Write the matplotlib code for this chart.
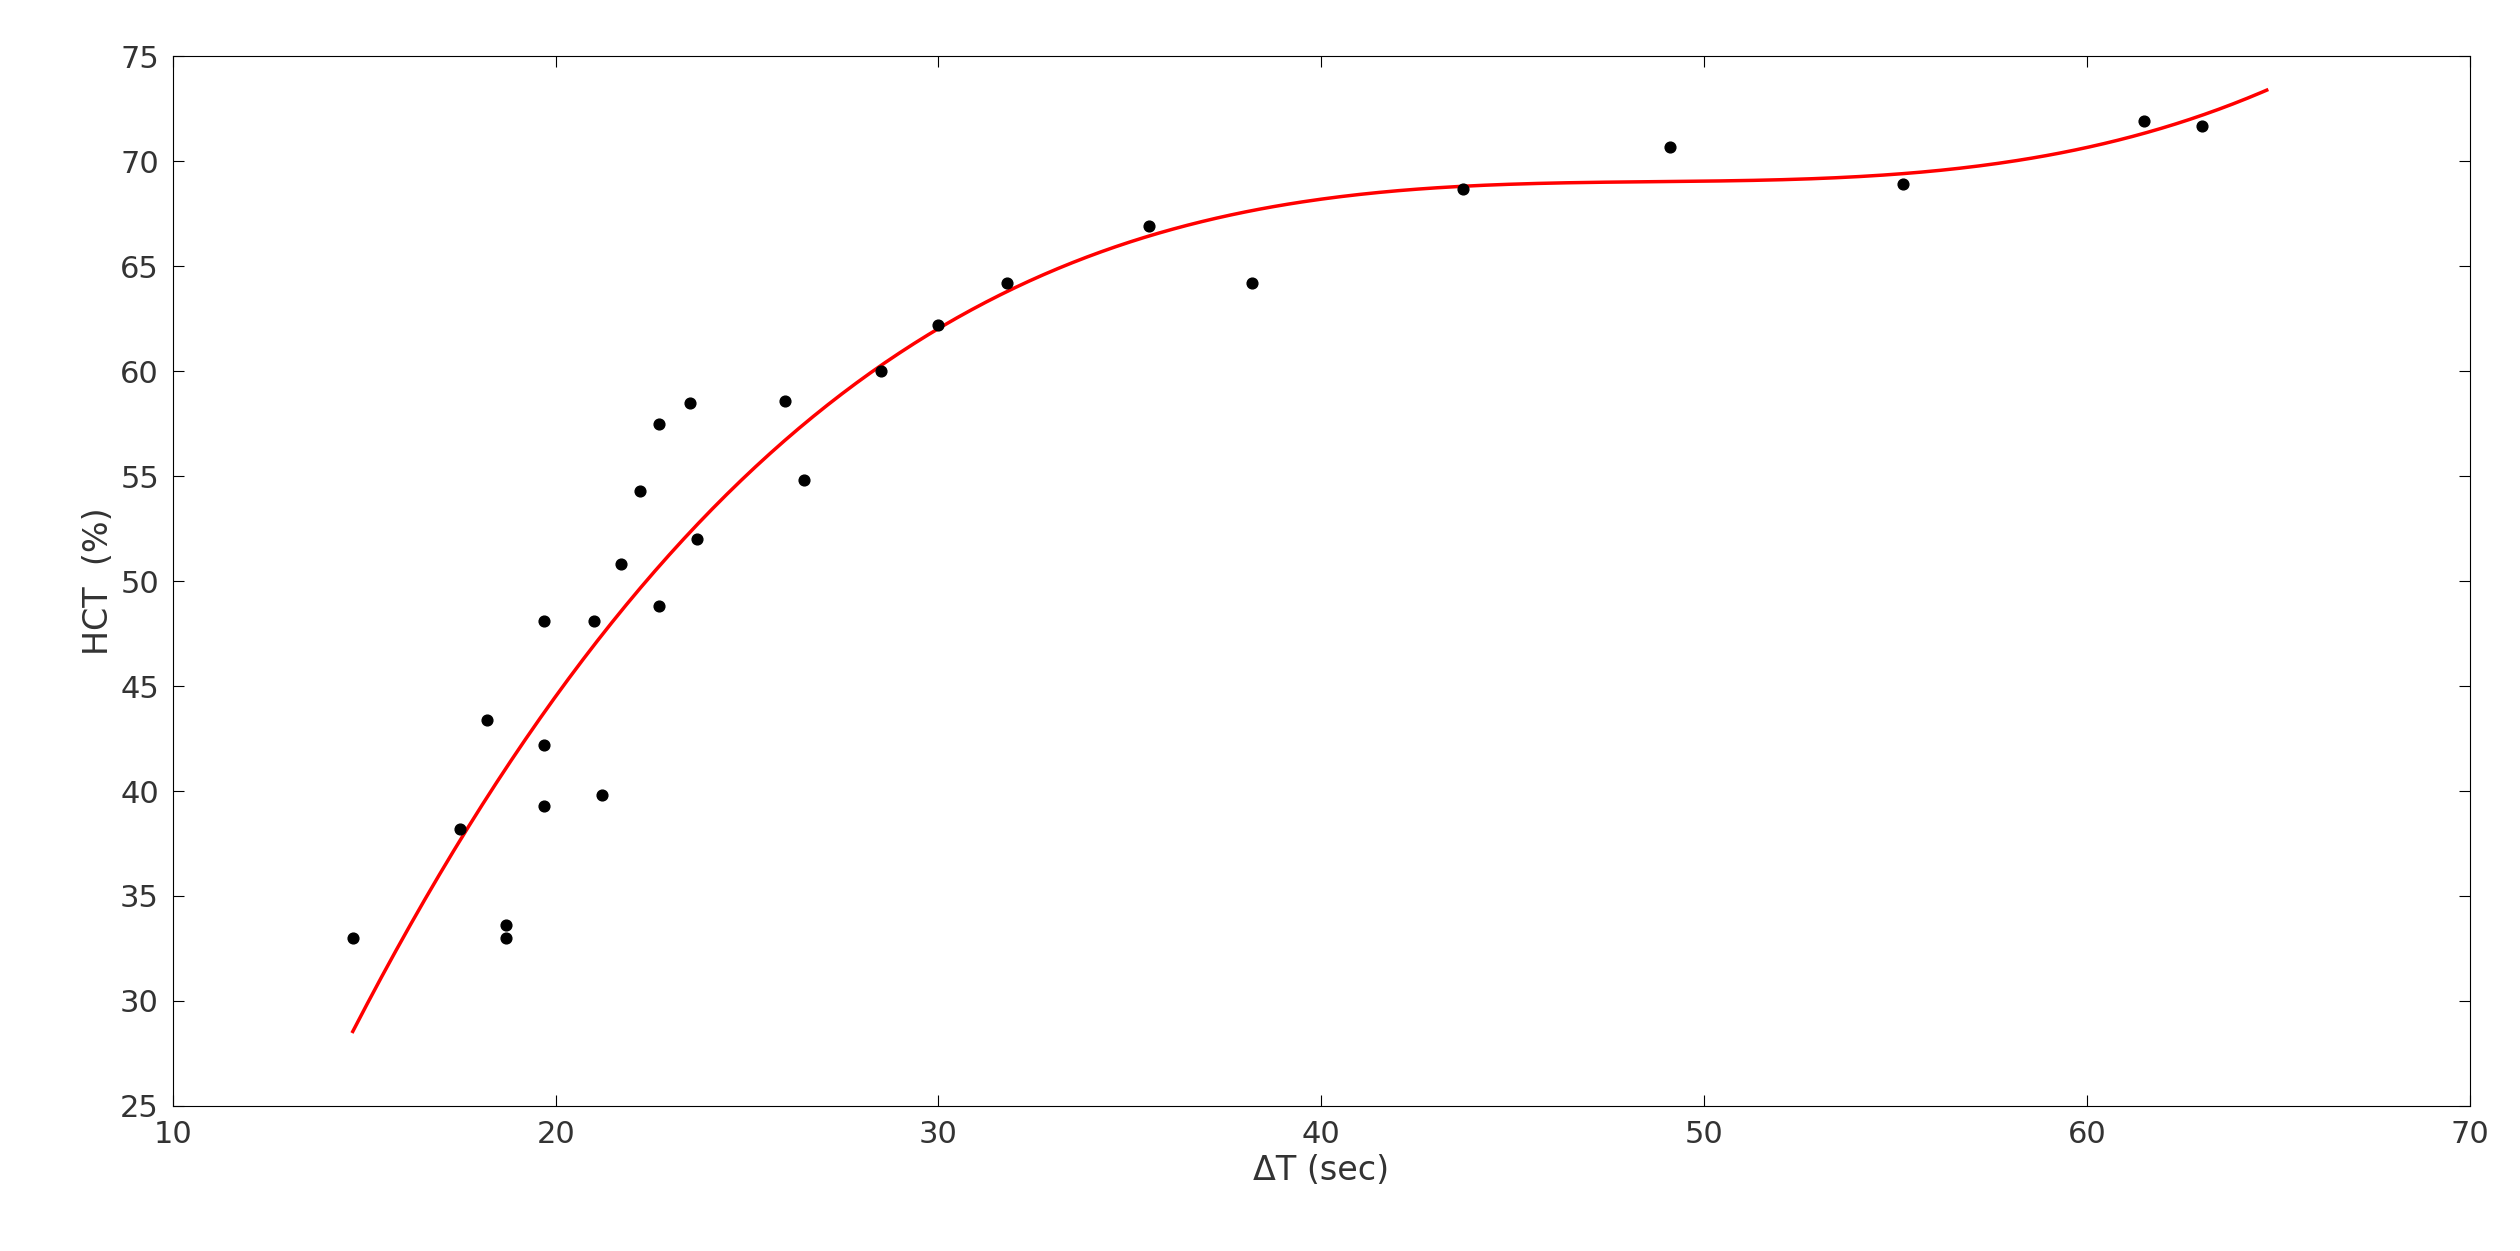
import numpy as np
import matplotlib
matplotlib.use("Agg")
import matplotlib.pyplot as plt

dt = [14.7,17.5,18.2,18.7,18.7,19.7,19.7,19.7,21.0,21.2,21.7,22.2,22.7,22.7,23.5,23.7,26.0,26.5,28.5,30.0,31.8,35.5,38.2,43.7,49.1,55.2,61.5,63.0]
hct = [33.0,38.2,43.4,33.6,33.0,48.1,42.2,39.3,48.1,39.8,50.8,54.3,57.5,48.8,58.5,52.0,58.6,54.8,60.0,62.2,64.2,66.9,64.2,68.7,70.7,68.9,71.9,71.7]
xticks = [10,20,30,40,50,60,70]
yticks = [25,30,35,40,45,50,55,60,65,70,75]

fig = plt.figure(figsize=(25.2,12.51), dpi=100)
ax = fig.add_axes([0.0686,0.116,0.9114,0.839])
coef = np.polyfit(dt, hct, 3)
xs = np.linspace(14.7, 64.7, 400)
ax.plot(xs, np.polyval(coef, xs), color='red', lw=2.5)
ax.scatter(dt, hct, s=60, color='black', zorder=3)
ax.set_xlim(10,70); ax.set_ylim(25,75)
ax.set_xticks(xticks); ax.set_yticks(yticks)
ax.tick_params(labelsize=22, direction='in', length=8, top=True, right=True, pad=10, labelcolor='#333333')
ax.set_xlabel('ΔT (sec)', fontsize=24, color='#333333')
ax.set_ylabel('HCT  (%)', fontsize=24, color='#333333')
fig.savefig('out.png')
